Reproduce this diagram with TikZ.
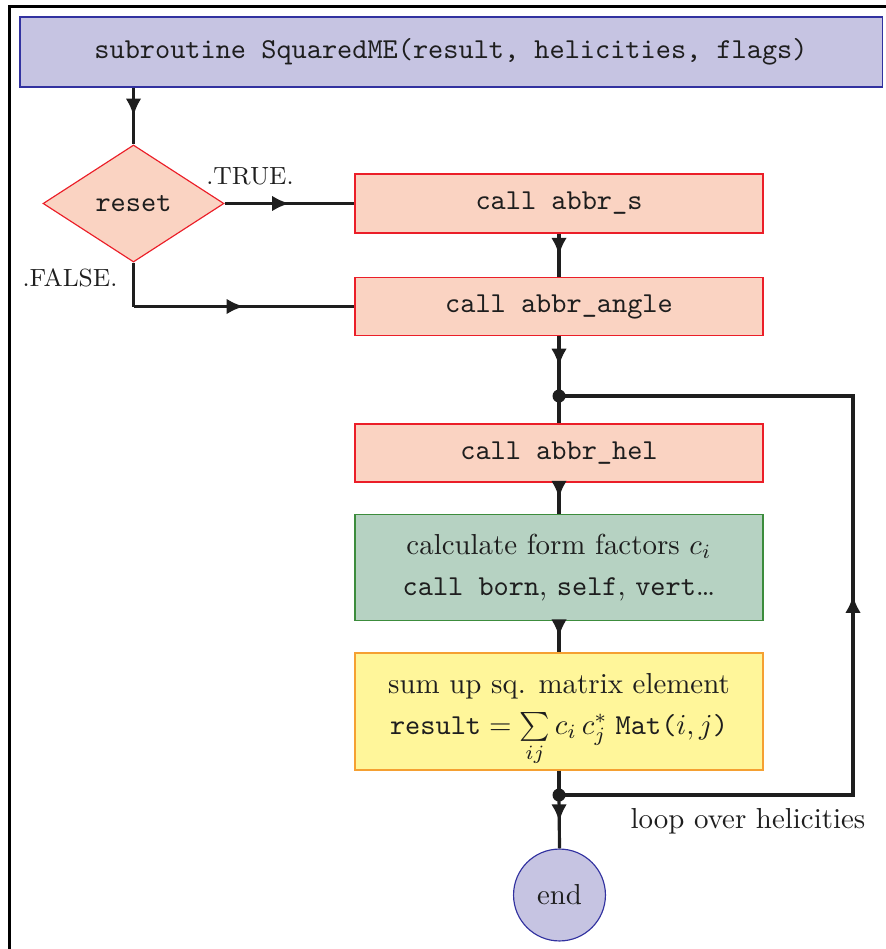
\documentclass[tikz,border=0pt]{standalone}
\usetikzlibrary{shapes.geometric,arrows.meta,decorations.markings}
\definecolor{lav}{RGB}{198,196,226}
\definecolor{lavline}{RGB}{50,50,160}
\definecolor{peach}{RGB}{250,211,194}
\definecolor{peachline}{RGB}{235,30,40}
\definecolor{sage}{RGB}{182,210,194}
\definecolor{sageline}{RGB}{60,140,60}
\definecolor{lemon}{RGB}{255,246,154}
\definecolor{lemonline}{RGB}{245,160,50}
\definecolor{ink}{RGB}{30,30,30}
\tikzset{
  box/.style={draw, rectangle, minimum width=141.2pt, align=center, inner sep=0pt, text=ink},
  callbox/.style={box, fill=peach, draw=peachline},
  conn/.style={draw=ink, line width=1.1pt},
  midarrow/.style={postaction={decorate}, decoration={markings, mark=at position 0.5 with {\arrow{Latex[length=6pt,width=5.4pt]}}}},
  junction/.style={circle, fill=ink, inner sep=0pt, minimum size=4.5pt},
  lbl/.style={text=ink, inner sep=0pt}
}
\begin{document}
\begin{tikzpicture}[x=0.346pt, y=-0.346pt]
\useasboundingbox (0,0) rectangle (886,949);
\clip (0,0) rectangle (886,949);
% outer frame (cropped)
\draw[line width=1pt, black] (9.5,970) -- (9.5,6.5) -- (900,6.5);
% nodes
\node[box, fill=lav, draw=lavline, minimum width=298.3pt, minimum height=24.2pt] (title) at (451,52)
  {\texttt{subroutine SquaredME(result, helicities, flags)}};
\node[diamond, fill=peach, draw=peachline, minimum width=62.6pt, minimum height=40.5pt, inner sep=0pt, text=ink] (reset) at (133.5,203.5) {\texttt{reset}};
\node[callbox, minimum height=20.4pt] (abbrs) at (559,203.5) {\texttt{call abbr\_s}};
\node[callbox, minimum height=20.1pt] (abbrangle) at (559,306.5) {\texttt{call abbr\_angle}};
\node[junction] (dot1) at (559,396) {};
\node[callbox, minimum height=20.1pt] (abbrhel) at (559,453) {\texttt{call abbr\_hel}};
\node[box, fill=sage, draw=sageline, minimum height=36.8pt] (form) at (559,567.5)
  {calculate form factors $c_i$\\[2.2pt] \texttt{call born}, \texttt{self}, \texttt{vert}\dots};
\node[box, fill=lemon, draw=lemonline, minimum height=40.5pt] (sum) at (559,711.5)
  {\raisebox{-4.6pt}[0pt][0pt]{\begin{tabular}{@{}c@{}}sum up sq. matrix element\\[2.2pt]
   $\texttt{result} = \sum\limits_{ij} c_i\, c_j^*\;\texttt{Mat(}i,j\texttt{)}$\end{tabular}}};
\node[junction] (dot2) at (559,795) {};
\node[circle, fill=lav, draw=lavline, minimum size=31.8pt, inner sep=0pt, text=ink] (end) at (559.5,895) {end};
\coordinate (bend) at (133.5,306.5);
\coordinate (loopTop) at (853,396);
\coordinate (loopBot) at (853,795);
% labels
\node[lbl, font=\fontsize{8.6}{10}\selectfont] (true) at (250,176) {.TRUE.};
\node[lbl, font=\fontsize{8.6}{10}\selectfont] (false) at (70,278) {.FALSE.};
\node[lbl] (loop) at (748,821) {loop over helicities};
% connectors
\draw[conn, midarrow] (title.south -| reset.north) -- (reset.north);
\draw[conn, midarrow] (reset.east) -- (abbrs.west);
\draw[conn] (reset.south) -- (bend);
\draw[conn, midarrow] (bend) -- (abbrangle.west);
\draw[conn, midarrow] (abbrs.south) -- (abbrangle.north);
\draw[conn, midarrow] (abbrangle.south) -- (dot1.center);
\draw[conn] (dot1.center) -- (abbrhel.north);
\draw[conn, midarrow] (abbrhel.south) -- (form.north);
\draw[conn, midarrow] (form.south) -- (sum.north);
\draw[conn] (sum.south) -- (dot2.center);
\draw[conn, midarrow] (dot2.center) -- (end.north);
\draw[conn, midarrow] (dot2.center) -- (loopBot) -- (loopTop) -- (dot1.center);
\end{tikzpicture}
\end{document}
